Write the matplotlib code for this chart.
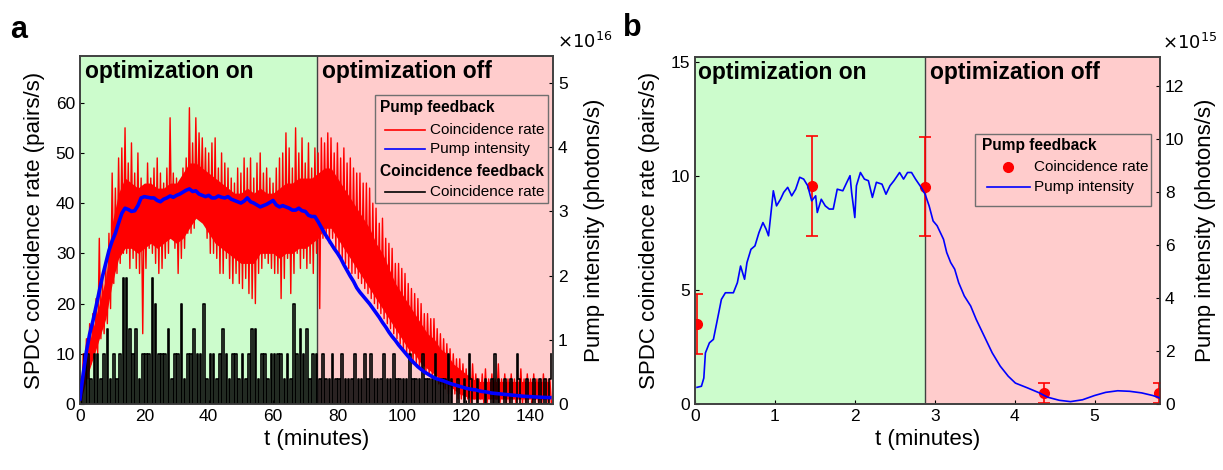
import matplotlib
matplotlib.use("Agg")
import matplotlib.pyplot as plt
import numpy as np
from matplotlib.patches import Rectangle

plt.rcParams['font.family'] = ['Liberation Sans', 'DejaVu Sans']

GREEN = "#ccfccc"
PINK = "#ffcccc"
EDGE = "#404040"

# ---------------- panel a data (t in minutes) ----------------
a_switch = 73.7
a_xmax = 147

# pump feedback coincidence rate: upper / lower excursion read per minute
red_hi = [3, 10, 13, 16, 18, 21, 33, 25, 28, 34,
          46, 43, 49, 51, 55, 48, 52, 46, 50, 45,
          43, 48, 45, 47, 49, 46, 44, 47, 57, 46,
          45, 44, 47, 49, 59, 52, 57, 54, 53, 51,
          50, 52, 53, 47, 50, 48, 47, 45, 44, 47,
          46, 49, 47, 49, 45, 48, 50, 46, 47, 45,
          44, 47, 49, 50, 54, 51, 47, 55, 50, 53,
          48, 52, 47, 51, 50, 53, 52, 54, 53, 50,
          52, 49, 51, 48, 49, 47, 46, 46, 44, 44,
          43, 40, 39, 36, 37, 33, 32, 31, 28, 28,
          27, 26, 24, 23, 22, 21, 20, 18, 18, 17,
          17, 15, 14, 13, 12, 11, 10, 9, 9, 8,
          7, 6, 8, 6, 5, 6, 7, 5, 6, 5,
          8, 5, 6, 5, 6, 5, 5, 7, 5, 6,
          5, 6, 5, 5, 6, 5, 5]
red_lo = [0, 4, 5, 8, 9, 10, 13, 14, 16, 19,
          24, 26, 28, 30, 30, 27, 29, 27, 26, 14,
          27, 31, 30, 28, 26, 27, 29, 30, 33, 31,
          26, 29, 31, 34, 34, 35, 38, 39, 37, 33,
          30, 30, 29, 26, 26, 29, 25, 24, 26, 24,
          23, 25, 22, 21, 20, 26, 27, 29, 28, 27,
          26, 26, 21, 25, 29, 22, 26, 30, 27, 29,
          27, 28, 26, 30, 19, 33, 33, 32, 33, 31,
          30, 29, 28, 27, 26, 26, 25, 24, 23, 22,
          21, 20, 19, 18, 17, 16, 15, 14, 13, 12,
          11, 10, 9, 8, 8, 7, 7, 6, 6, 5,
          5, 4, 4, 3, 2, 2, 2, 1, 1, 1,
          1, 0, 1, 0, 1, 0, 0, 1, 0, 1,
          0, 1, 0, 0, 1, 0, 1, 0, 0, 1,
          0, 1, 0, 0, 1, 0, 0]

# solid core of the red band, read every 2 minutes
core_t = list(range(0, 147, 2))
core_lo = [0, 5, 9, 13, 17, 24, 29, 31, 31, 30,
           31, 32, 31, 32, 33, 32, 33, 35, 37, 36,
           34, 32, 31, 30, 29, 28, 28, 28, 30, 30,
           30, 29, 30, 30, 31, 31, 32, 33, 35, 35,
           33, 31, 29, 27, 25, 23, 21, 19, 17, 15,
           13, 11, 10, 8, 7, 6, 5, 4, 3, 2,
           1.5, 1, 1, 1, 1, 1, 1, 1, 1, 1,
           1, 1, 1, 1]
core_hi = [2, 10, 15, 20, 25, 36, 42, 45, 44, 43,
           44, 44, 43, 43, 44, 44, 46, 48, 48, 47,
           46, 45, 44, 43, 42, 42, 43, 42, 43, 42,
           42, 43, 44, 44, 45, 45, 45, 46, 47, 47,
           45, 43, 41, 39, 37, 35, 32, 30, 27, 24,
           22, 20, 18, 16, 14, 13, 11, 10, 8, 7,
           6, 5, 4.5, 4.5, 4.5, 4.5, 4.5, 4.5, 4.5, 4.5,
           4.5, 4.5, 4.5, 4.5]

# coincidence feedback rate in counts of 5 pairs/s, half-minute samples.
# 0-115 min: the trace drops to 0 between every peak (peaks listed here)
black_peaks = ("1221221231" "2125532312" "2254222312" "2412232241"
               "2212321221" "2123312212" "2221214232" "3122121121"
               "1211121121" "2111211211" "1121112111" "21112")
# 115-147 min: sparse pulses
black_tail = ("0100010001" "0021000100" "0010001020" "1000100010"
              "0021000010" "0010001001" "0012")

# pump intensity (x1e16 photons/s), one value per minute
blue_a = [0.08, 0.47, 0.82, 1.09, 1.29, 1.52, 1.76, 1.99, 2.19, 2.39,
          2.54, 2.66, 2.82, 2.97, 3.05, 3.03, 3.00, 3.01, 3.09, 3.21,
          3.23, 3.22, 3.21, 3.21, 3.17, 3.15, 3.19, 3.21, 3.24, 3.22,
          3.25, 3.27, 3.30, 3.33, 3.35, 3.31, 3.32, 3.27, 3.25, 3.23,
          3.25, 3.21, 3.21, 3.24, 3.22, 3.21, 3.23, 3.19, 3.17, 3.15,
          3.13, 3.16, 3.21, 3.15, 3.13, 3.10, 3.07, 3.09, 3.11, 3.14,
          3.17, 3.10, 3.07, 3.09, 3.07, 3.05, 3.02, 3.02, 3.05, 3.01,
          3.00, 2.94, 2.92, 2.92, 2.84, 2.75, 2.66, 2.58, 2.50, 2.42,
          2.35, 2.27, 2.17, 2.08, 1.99, 1.91, 1.81, 1.74, 1.68, 1.62,
          1.56, 1.49, 1.42, 1.35, 1.27, 1.20, 1.12, 1.05, 0.99, 0.92,
          0.86, 0.80, 0.74, 0.68, 0.63, 0.58, 0.54, 0.50, 0.47, 0.44,
          0.41, 0.39, 0.375, 0.36, 0.34, 0.32, 0.305, 0.29, 0.275, 0.26,
          0.245, 0.235, 0.225, 0.22, 0.205, 0.195, 0.19, 0.18, 0.17, 0.165,
          0.16, 0.155, 0.15, 0.145, 0.14, 0.135, 0.13, 0.125, 0.12, 0.117,
          0.113, 0.11, 0.108, 0.106, 0.103, 0.102, 0.10]

# ---------------- panel b data ----------------
b_switch = 2.88
b_xmax = 5.82
blue_b_t = [0.025, 0.08, 0.11, 0.13, 0.18, 0.23, 0.28, 0.33, 0.38, 0.43, 0.48,
            0.53, 0.57, 0.62, 0.65, 0.70, 0.75, 0.80, 0.85, 0.89, 0.92, 0.96,
            0.98, 1.02, 1.07, 1.11, 1.16, 1.21, 1.26, 1.31, 1.36, 1.41, 1.46,
            1.51, 1.53, 1.58, 1.63, 1.68, 1.73, 1.78, 1.85, 1.90, 1.94, 1.96,
            2.00, 2.02, 2.07, 2.12, 2.17, 2.22, 2.27, 2.34, 2.39, 2.44, 2.49,
            2.56, 2.61, 2.66, 2.71, 2.76, 2.83, 2.88, 2.93, 2.98, 3.03, 3.11,
            3.15, 3.20, 3.25, 3.30, 3.37, 3.45, 3.52, 3.62, 3.72, 3.82, 3.92,
            4.01, 4.16, 4.31, 4.41, 4.56, 4.70, 4.85, 5.00, 5.14, 5.29, 5.44,
            5.59, 5.73, 5.82]
blue_b = [0.63, 0.67, 0.98, 1.93, 2.31, 2.44, 3.19, 3.95, 4.20, 4.20, 4.20,
          4.58, 5.21, 4.71, 5.34, 5.84, 5.97, 6.47, 6.85, 6.60, 6.35, 7.48,
          8.05, 7.48, 7.73, 7.99, 8.18, 7.86, 8.11, 8.56, 8.49, 8.24, 7.67,
          7.86, 7.23, 7.73, 7.48, 7.36, 7.36, 8.11, 8.05, 8.37, 8.62, 7.99,
          7.04, 8.24, 8.74, 8.49, 8.43, 7.80, 8.37, 8.30, 7.92, 8.24, 8.43,
          8.74, 8.49, 8.74, 8.74, 8.49, 8.18, 7.92, 7.48, 6.91, 6.73, 6.22,
          5.72, 5.34, 5.09, 4.58, 4.08, 3.70, 3.19, 2.56, 1.93, 1.43, 1.05,
          0.79, 0.61, 0.42, 0.26, 0.14, 0.09, 0.16, 0.32, 0.44, 0.50, 0.48,
          0.42, 0.32, 0.23]
dots_t = [0.03, 1.46, 2.88, 4.37, 5.81]
dots_y = [3.5, 9.55, 9.52, 0.48, 0.48]
dots_err = [1.31, 2.17, 2.17, 0.44, 0.44]


def style_axes(ax):
    for sp in ax.spines.values():
        sp.set_color(EDGE)
        sp.set_linewidth(1.2)
    ax.tick_params(direction="in", length=3, labelsize=12.5, width=0.8)


def shade(ax, switch, xmax):
    ax.axvspan(0, switch, color=GREEN, lw=0, zorder=0)
    ax.axvspan(switch, xmax, color=PINK, lw=0, zorder=0)
    ax.axvline(switch, color=EDGE, lw=1.0, zorder=1)


fig = plt.figure(figsize=(12.23, 4.70), dpi=100)

# ---------------- panel a ----------------
ax = fig.add_axes([0.0654, 0.1404, 0.3868, 0.7404])
shade(ax, a_switch, a_xmax)
ax.text(0.011, 0.955, "optimization on", transform=ax.transAxes,
        fontsize=16.5, fontweight="bold", va="center", zorder=5)
ax.text(0.512, 0.955, "optimization off", transform=ax.transAxes,
        fontsize=16.5, fontweight="bold", va="center", zorder=5)

ax.fill_between(core_t, core_lo, core_hi, color="#ff0000", lw=0, zorder=2)
hi = np.array(red_hi, float)
lo = np.array(red_lo, float)
tm = np.arange(len(hi), dtype=float)
red_t = np.column_stack([tm, tm + 0.5]).ravel()
red_v = np.column_stack([hi, lo]).ravel()
ax.plot(red_t, red_v, color="#ff0000", lw=1.0, zorder=2)

black_codes = "".join("0" + c for c in black_peaks) + black_tail
black = 5 * np.array([int(c) for c in black_codes], float)
black_t = np.arange(len(black)) * 0.5
ax.plot(black_t, black, color="black", lw=1.2, drawstyle="steps-mid", zorder=3)

ax.set_xlim(0, a_xmax)
ax.set_ylim(0, 69.3)
ax.set_xticks(range(0, 141, 20))
ax.set_yticks(range(0, 61, 10))
ax.set_xlabel("t (minutes)", fontsize=16)
ax.set_ylabel("SPDC coincidence rate (pairs/s)", fontsize=16, labelpad=8)
style_axes(ax)

axr = ax.twinx()
axr.plot(np.arange(len(blue_a)), blue_a, color="#0000ff", lw=2.6, zorder=4)
axr.set_ylim(0, 5.42)
axr.set_yticks(range(0, 6))
axr.set_ylabel("Pump intensity (photons/s)", fontsize=16, labelpad=12)
style_axes(axr)
axr.text(1.008, 1.04, r"$\times10^{16}$", transform=axr.transAxes,
         fontsize=13, va="center", ha="left")

# legend a (drawn by hand, headers flush left)
axr.add_patch(Rectangle((0.624, 0.578), 0.365, 0.31, transform=axr.transAxes,
                        fc=PINK, ec="#707070", lw=1.0, zorder=6))
axr.text(0.634, 0.853, "Pump feedback", transform=axr.transAxes,
         fontsize=11.2, fontweight="bold", va="center", zorder=7)
axr.text(0.634, 0.667, "Coincidence feedback", transform=axr.transAxes,
         fontsize=11.2, fontweight="bold", va="center", zorder=7)
for yy, col, lab in [(0.787, "#ff0000", "Coincidence rate"),
                     (0.733, "#0000ff", "Pump intensity"),
                     (0.609, "black", "Coincidence rate")]:
    axr.plot([0.645, 0.73], [yy, yy], color=col, lw=1.2,
             transform=axr.transAxes, zorder=7)
    axr.text(0.74, yy, lab, transform=axr.transAxes, fontsize=11,
             va="center", zorder=7)

# ---------------- panel b ----------------
bx = fig.add_axes([0.5683, 0.1404, 0.3802, 0.7383])
shade(bx, b_switch, b_xmax)
bx.text(0.006, 0.955, "optimization on", transform=bx.transAxes,
        fontsize=16.5, fontweight="bold", va="center", zorder=5)
bx.text(0.505, 0.955, "optimization off", transform=bx.transAxes,
        fontsize=16.5, fontweight="bold", va="center", zorder=5)
bx.errorbar(dots_t, dots_y, yerr=dots_err, fmt="o", color="#ff0000",
            ms=7, capsize=4, elinewidth=1.2, capthick=1.2, zorder=4)
bx.set_xlim(0, b_xmax)
bx.set_ylim(0, 15.2)
bx.set_xticks(range(0, 6))
bx.set_yticks([0, 5, 10, 15])
bx.set_xlabel("t (minutes)", fontsize=16)
bx.set_ylabel("SPDC coincidence rate (pairs/s)", fontsize=16, labelpad=8)
style_axes(bx)

bxr = bx.twinx()
bxr.plot(blue_b_t, blue_b, color="#0000ff", lw=1.2, zorder=3)
bxr.set_ylim(0, 13.1)
bxr.set_yticks(range(0, 13, 2))
bxr.set_ylabel("Pump intensity (photons/s)", fontsize=16, labelpad=8)
style_axes(bxr)
bxr.text(1.004, 1.04, r"$\times10^{15}$", transform=bxr.transAxes,
         fontsize=13, va="center", ha="left")

bxr.add_patch(Rectangle((0.602, 0.571), 0.379, 0.207, transform=bxr.transAxes,
                        fc=PINK, ec="#707070", lw=1.0, zorder=6))
bxr.text(0.617, 0.744, "Pump feedback", transform=bxr.transAxes,
         fontsize=11.2, fontweight="bold", va="center", zorder=7)
bxr.plot([0.673], [0.683], "o", color="#ff0000", ms=7,
         transform=bxr.transAxes, zorder=7)
bxr.text(0.729, 0.683, "Coincidence rate", transform=bxr.transAxes,
         fontsize=11, va="center", zorder=7)
bxr.plot([0.628, 0.72], [0.625, 0.625], color="#0000ff", lw=1.2,
         transform=bxr.transAxes, zorder=7)
bxr.text(0.729, 0.625, "Pump intensity", transform=bxr.transAxes,
         fontsize=11, va="center", zorder=7)

fig.text(0.008, 0.936, "a", fontsize=22, fontweight="bold", va="center")
fig.text(0.509, 0.940, "b", fontsize=22, fontweight="bold", va="center")

fig.savefig("out.png", dpi=100)
